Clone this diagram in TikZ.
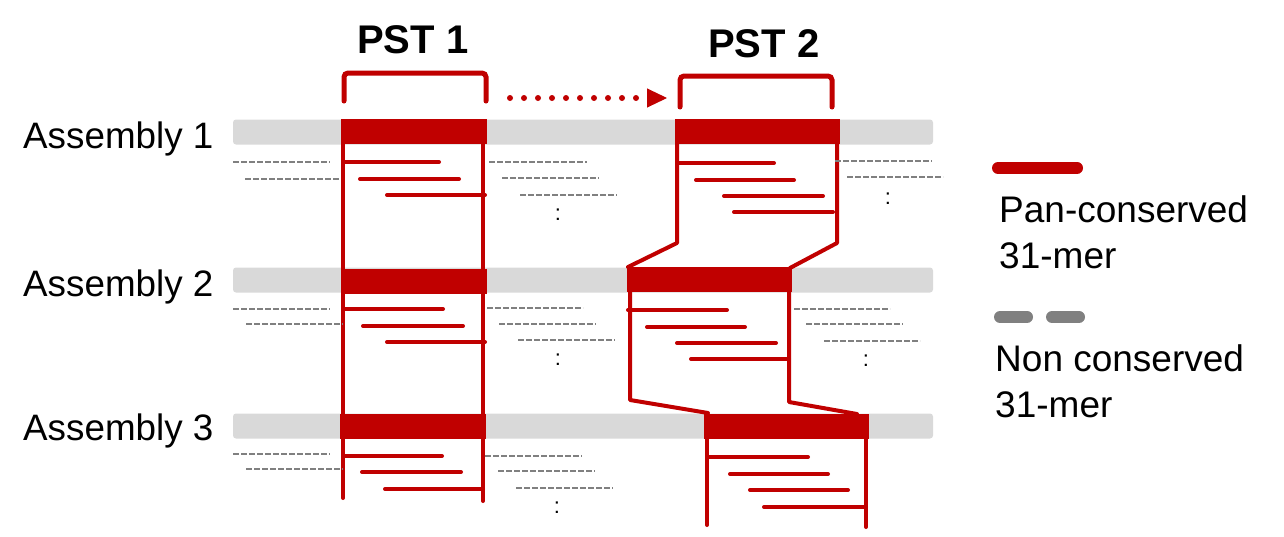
\documentclass[tikz,border=0pt]{standalone}
\usepackage{fontspec}
\setmainfont{Liberation Sans}
\usepackage{xcolor}
\usepackage{tikz}
\usetikzlibrary{positioning,arrows.meta,calc}

\definecolor{consred}{HTML}{C00000}
\definecolor{bargray}{HTML}{D9D9D9}
\definecolor{missgray}{HTML}{808080}

\begin{document}
\begin{tikzpicture}[
    x=1pt, y=-1pt,
    bar/.style={fill=bargray, rounded corners=3pt, minimum width=700pt, minimum height=25pt, inner sep=0pt},
    pst/.style={fill=consred, minimum height=25pt, inner sep=0pt},
    hit/.style={draw=consred, line width=4pt, line cap=round, line join=round},
    miss/.style={draw=missgray, line width=2pt, dash pattern=on 5.5pt off 2.5pt},
    brace/.style={draw=consred, line width=5pt, line cap=round, rounded corners=4pt},
    asm/.style={anchor=base west, inner sep=0pt, font=\fontsize{36.8}{44}\selectfont},
    title/.style={anchor=base west, inner sep=0pt, font=\fontsize{40}{48}\selectfont\bfseries},
    more/.style={anchor=base, inner sep=0pt, font=\fontsize{22}{26}\selectfont},
    legend/.style={anchor=north west, inner sep=0pt, align=left, font=\fontsize{37}{46}\selectfont}
]
\useasboundingbox (0,0) rectangle (1284,536);

% assemblies
\node[asm] (a1) at (23,148) {Assembly 1};
\node[asm] (a2) at (23,296) {Assembly 2};
\node[asm] (a3) at (23,440) {Assembly 3};
\node[bar] (bar1) at (583,132) {};
\node[bar] (bar2) at (583,280) {};
\node[bar] (bar3) at (583,426) {};

% PST 1 columns
\draw[hit] (343,144) -- (343,498);
\draw[hit] (483,144) -- (483,501);

% PST 2 outline
\draw[hit] (677,143) -- (677,243) -- (628,267);
\draw[hit] (837,143) -- (837,243) -- (790,268);
\draw[hit] (630,292) -- (630,400) -- (708,413);
\draw[hit] (789,292) -- (789,402) -- (857,414);
\draw[hit] (707,439) -- (707,525);
\draw[hit] (866,439) -- (866,527);

% conserved blocks
\node[pst, minimum width=146pt] (p11) at (414,131.5) {};
\node[pst, minimum width=146pt] (p12) at (414,281.5) {};
\node[pst, minimum width=146pt] (p13) at (413,426.5) {};
\node[pst, minimum width=165pt] (p21) at (757.5,131.5) {};
\node[pst, minimum width=165pt] (p22) at (709.5,279.5) {};
\node[pst, minimum width=165pt] (p23) at (786.5,426) {};

% conserved 31-mers
\foreach \a/\b/\y in {343/439/162, 360/459/179, 387/485/195,
                      343/443/309, 363/463/326, 387/485/342,
                      343/442/456, 362/461/472, 385/483/489,
                      677/774/163, 696/794/180, 724/823/196, 734/833/212,
                      628/727/310, 647/745/327, 677/776/343, 691/789/359,
                      707/808/457, 730/828/474, 750/848/490, 764/866/507}
    \draw[hit] (\a,\y) -- (\b,\y);

% non conserved 31-mers
\foreach \a/\b/\y in {233/330/162, 245/339/179, 489/587/162, 502/599/178, 520/617/195,
                      835/932/161, 847/943/177,
                      233/330/309, 246/343/324, 487/583/308, 499/596/324, 518/615/340,
                      794/890/309, 806/903/324, 824/920/341,
                      233/330/454, 246/343/469, 485/582/456, 498/595/471, 516/613/488}
    \draw[miss] (\a,\y) -- (\b,\y);

\node[more] (m11) at (558,220) {:};
\node[more] (m21) at (888,204) {:};
\node[more] (m12) at (558,365) {:};
\node[more] (m22) at (866,366) {:};
\node[more] (m13) at (557,513) {:};

% PST labels and brackets
\node[title] (t1) at (357,53) {PST 1};
\node[title] (t2) at (708,57) {PST 2};
\draw[brace] (344,101) -- (344,73) -- (486,73) -- (486,101);
\draw[brace] (680,107) -- (680,76) -- (832,76) -- (832,107);
\coordinate (s1) at (510,98);
\coordinate (s2) at (667,98);
\draw[consred, line width=6pt, line cap=round, dash pattern=on 0pt off 14pt] (s1) -- ([xshift=-14pt]s2);
\draw[-{Triangle[length=20pt, width=19pt]}, consred, line width=1pt] ([xshift=-19pt]s2) -- (s2);

% legend
\coordinate (k1) at (998,168);
\draw[hit, line width=12pt] (k1) -- ++(79,0);
\node[legend] (l1) at (999,195) {Pan-conserved\\31-mer};
\coordinate (k2) at (1000,317);
\draw[draw=missgray, line width=12pt, line cap=round] (k2) -- ++(27,0);
\draw[draw=missgray, line width=12pt, line cap=round] ([xshift=52pt]k2) -- ++(27,0);
\node[legend] (l2) at (995,344) {Non conserved\\31-mer};
\end{tikzpicture}
\end{document}
